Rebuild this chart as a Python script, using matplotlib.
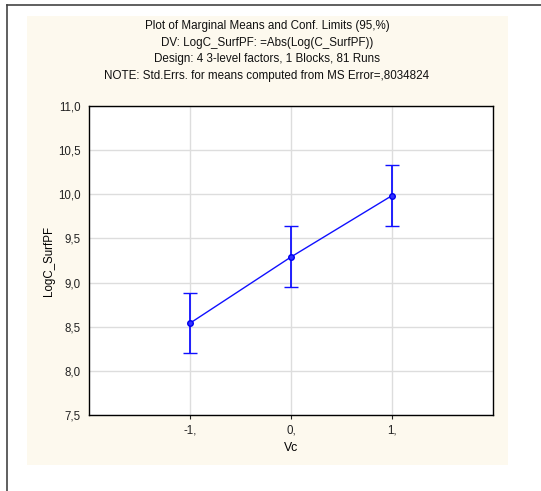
import matplotlib
matplotlib.use("Agg")
import matplotlib.pyplot as plt
from matplotlib.patches import Rectangle
from matplotlib.lines import Line2D

plt.rcParams['font.family'] = ['Liberation Sans', 'DejaVu Sans']

levels = [-1, 0, 1]
tick_labels = ["-1,", "0,", "1,"]
means = [8.54, 9.29, 9.985]
lower = [8.20, 8.955, 9.637]
upper = [8.885, 9.643, 10.33]
yticks = [7.5, 8.0, 8.5, 9.0, 9.5, 10.0, 10.5, 11.0]
titles = ["Plot of Marginal Means and Conf. Limits (95,%)",
          "DV: LogC_SurfPF: =Abs(Log(C_SurfPF))",
          "Design: 4 3-level factors, 1 Blocks, 81 Runs",
          "NOTE: Std.Errs. for means computed from MS Error=,8034824"]

W, H = 541, 491
fig = plt.figure(figsize=(W/100, H/100), dpi=100)
fig.patch.set_facecolor('white')

# outer frame lines
fig.add_artist(Line2D([7/W, 7/W], [0, 1-5/H], color='#444444', lw=1.2, transform=fig.transFigure))
fig.add_artist(Line2D([7/W, 1], [1-5/H, 1-5/H], color='#444444', lw=1.2, transform=fig.transFigure))
# cream background
fig.add_artist(Rectangle((27/W, 1-465/H), (508-27)/W, (465-16)/H, transform=fig.transFigure,
                         facecolor='#fdf9ee', edgecolor='none', zorder=-1))

ax = fig.add_axes([89/W, 1-415/H, (493-89)/W, (415-106)/H])
ax.set_facecolor('white')
ax.set_xlim(-2, 2)
ax.set_ylim(7.5, 11.0)
ax.set_yticks(yticks)
ax.set_yticklabels([f"{v:.1f}".replace('.', ',') for v in yticks])
ax.set_xticks(levels)
ax.set_xticklabels(tick_labels)
ax.grid(True, color='#dddddd', lw=1.0)
ax.set_axisbelow(True)
for s in ax.spines.values():
    s.set_color('black')
    s.set_linewidth(1.0)
ax.tick_params(axis='both', labelsize=8.3, length=3, width=0.8, colors='#222222')
ax.tick_params(axis='y', length=0, pad=6)
ax.tick_params(axis='x', pad=4)

err_lo = [m - l for m, l in zip(means, lower)]
err_hi = [u - m for m, u in zip(means, upper)]
ax.errorbar(levels, means, yerr=[err_lo, err_hi], color='#1010ff', lw=1.0,
            marker='o', ms=4, mfc='#3030ff', mec='#0000ee', mew=1.0,
            capsize=5, capthick=1.2, elinewidth=1.3)

ax.set_ylabel("LogC_SurfPF", fontsize=8.3, labelpad=2)
ax.set_xlabel("Vc", fontsize=8.8, labelpad=4)

for i, t in enumerate(titles):
    fig.text(267/W, 1-(26+16.7*i)/H, t, ha='center', va='center', fontsize=8.4, color='#111111')

fig.savefig("out.png", dpi=100)
